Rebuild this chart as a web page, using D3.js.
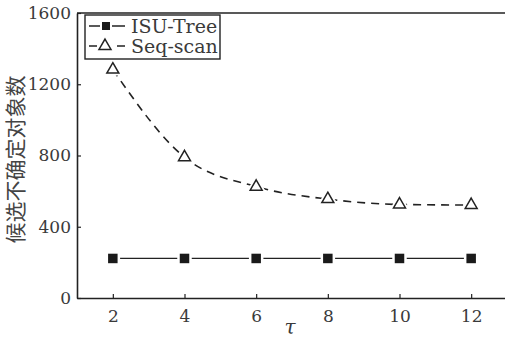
<!DOCTYPE html>
<html>
<head>
<meta charset="utf-8">
<script src="https://cdn.jsdelivr.net/npm/d3@7"></script>
<style>
  body { margin: 0; background: #fff; }
  svg text { fill: #3a3a3a; font-family: "DejaVu Serif", serif; }
  svg text.cjk { font-family: "Noto Sans CJK SC", sans-serif; }
</style>
</head>
<body>
<div id="chart"></div>
<script>
// data
const tauValues = [2, 4, 6, 8, 10, 12];
const isuTree = [222, 222, 222, 222, 222, 222];
const seqScan = [1282, 790, 625, 555, 525, 522];
const yTicks = [0, 400, 800, 1200, 1600];
const seriesNames = ["ISU-Tree", "Seq-scan"];

const W = 505, H = 342;
const margin = { top: 13, right: 0, bottom: 44, left: 77 };
const width = W - margin.left - margin.right,
    height = H - margin.top - margin.bottom;

const svg = d3.select("#chart").append("svg")
    .attr("width", W)
    .attr("height", H);

const g = svg.append("g")
    .attr("transform", "translate(" + margin.left + "," + margin.top + ")");

const x = d3.scaleLinear().domain([1, 13]).range([0, width + 2]);
const y = d3.scaleLinear().domain([0, 1600]).range([height, 0]);

// axes with inward ticks
const xAxis = g.append("g")
    .attr("transform", "translate(0," + height + ")")
    .call(d3.axisBottom(x).tickValues(tauValues).tickFormat(d3.format("d"))
        .tickSizeInner(-4).tickSizeOuter(0).tickPadding(12));
const yAxis = g.append("g")
    .call(d3.axisLeft(y).tickValues(yTicks).tickFormat(d3.format("d"))
        .tickSizeInner(-4).tickSizeOuter(0).tickPadding(6));

[xAxis, yAxis].forEach(a => {
    a.attr("font-family", null).attr("font-size", null);
    a.select(".domain").attr("stroke", "#222").attr("stroke-width", 1.6);
    a.selectAll(".tick line").attr("stroke", "#222").attr("stroke-width", 1.2);
    a.selectAll(".tick text")
        .style("font-size", "17px")
        .attr("fill", "#444");
});

// top frame line
g.append("line")
    .attr("x1", 0).attr("x2", width)
    .attr("y1", 0).attr("y2", 0)
    .attr("stroke", "#222").attr("stroke-width", 1.6);

// lines
const lineIsu = d3.line()
    .x((d, i) => x(tauValues[i]))
    .y(d => y(d));
const lineSeq = d3.line()
    .x((d, i) => x(tauValues[i]))
    .y(d => y(d))
    .curve(d3.curveMonotoneX);

g.append("path")
    .datum(isuTree)
    .attr("d", lineIsu)
    .attr("fill", "none")
    .attr("stroke", "#222")
    .attr("stroke-width", 1.3);

g.append("path")
    .datum(seqScan)
    .attr("d", lineSeq)
    .attr("fill", "none")
    .attr("stroke", "#222")
    .attr("stroke-width", 1.6)
    .attr("stroke-dasharray", "8,6");

// markers with white halo so the line breaks around them
const tri = d3.symbol().type(d3.symbolTriangle).size(62);

g.selectAll(".sq")
    .data(isuTree)
    .enter().append("rect")
    .attr("class", "sq")
    .attr("x", (d, i) => x(tauValues[i]) - 6)
    .attr("y", d => y(d) - 6)
    .attr("width", 12).attr("height", 12)
    .attr("fill", "#1a1a1a")
    .attr("stroke", "#fff")
    .attr("stroke-width", 2.5);

g.selectAll(".tri-halo")
    .data(seqScan)
    .enter().append("path")
    .attr("d", tri)
    .attr("transform", (d, i) => "translate(" + x(tauValues[i]) + "," + y(d) + ")")
    .attr("fill", "#fff")
    .attr("stroke", "#fff")
    .attr("stroke-width", 5);

g.selectAll(".tri")
    .data(seqScan)
    .enter().append("path")
    .attr("class", "tri")
    .attr("d", tri)
    .attr("transform", (d, i) => "translate(" + x(tauValues[i]) + "," + y(d) + ")")
    .attr("fill", "#fff")
    .attr("stroke", "#222")
    .attr("stroke-width", 1.5);

// axis titles
svg.append("text")
    .attr("class", "cjk")
    .attr("transform", "translate(23," + (margin.top + height / 2 + 4) + ") rotate(-90)")
    .attr("text-anchor", "middle")
    .style("font-size", "21px")
    .style("fill", "#444")
    .text("候选不确定对象数");

svg.append("text")
    .attr("x", 290)
    .attr("y", 334)
    .attr("text-anchor", "middle")
    .style("font-size", "20px")
    .style("font-style", "italic")
    .text("τ");

// legend
const legend = svg.append("g").attr("transform", "translate(85,15)");
legend.append("rect")
    .attr("width", 135).attr("height", 44)
    .attr("fill", "#fff")
    .attr("stroke", "#222")
    .attr("stroke-width", 1.4);

const rows = [
    { name: seriesNames[0], cy: 11, dash: null },
    { name: seriesNames[1], cy: 31, dash: "8,6" }
];
rows.forEach(r => {
    legend.append("line")
        .attr("x1", 4).attr("x2", 40)
        .attr("y1", r.cy).attr("y2", r.cy)
        .attr("stroke", "#222").attr("stroke-width", 1.4)
        .attr("stroke-dasharray", r.dash);
    if (r.dash) {
        legend.append("path")
            .attr("d", tri)
            .attr("transform", "translate(20," + r.cy + ")")
            .attr("fill", "#fff").attr("stroke", "#fff").attr("stroke-width", 5);
        legend.append("path")
            .attr("d", tri)
            .attr("transform", "translate(20," + r.cy + ")")
            .attr("fill", "#fff").attr("stroke", "#222").attr("stroke-width", 1.5);
    } else {
        legend.append("rect")
            .attr("x", 16).attr("y", r.cy - 5)
            .attr("width", 10).attr("height", 10)
            .attr("fill", "#1a1a1a").attr("stroke", "#fff").attr("stroke-width", 2);
    }
    legend.append("text")
        .attr("x", 46).attr("y", r.cy + 7)
        .style("font-size", "19px")
        .text(r.name);
});
</script>
</body>
</html>
